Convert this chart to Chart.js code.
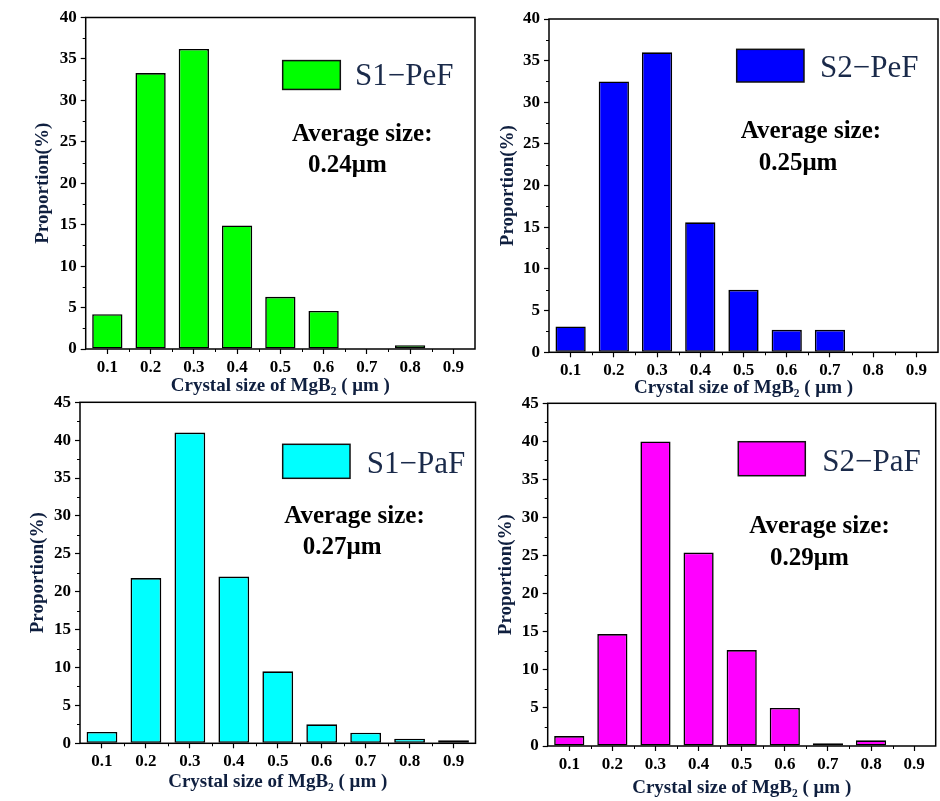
<!DOCTYPE html>
<html>
<head>
<meta charset="utf-8">
<script src="https://cdn.jsdelivr.net/npm/chart.js@4/dist/chart.umd.min.js"></script>
<style>
  html, body { margin: 0; padding: 0; background: #fff; }
  body { width: 940px; height: 801px; position: relative; overflow: hidden; }
  .panel { position: absolute; }
</style>
</head>
<body>
<div class="panel" style="left:0px;top:0px;"><canvas id="c1" width="477" height="400"></canvas></div>
<div class="panel" style="left:477px;top:0px;"><canvas id="c2" width="463" height="400"></canvas></div>
<div class="panel" style="left:0px;top:385px;"><canvas id="c3" width="477" height="416"></canvas></div>
<div class="panel" style="left:477px;top:385px;"><canvas id="c4" width="463" height="416"></canvas></div>
<script>
// ---- data ----
const categories = ['0.1', '0.2', '0.3', '0.4', '0.5', '0.6', '0.7', '0.8', '0.9'];
const s1PeF = [4.2, 33.3, 36.2, 14.9, 6.3, 4.6, 0, 0.45, 0];
const s2PeF = [3.1, 32.5, 36.0, 15.6, 7.5, 2.7, 2.7, 0, 0];
const s1PaF = [1.5, 21.8, 41.0, 22.0, 9.5, 2.5, 1.4, 0.6, 0.4];
const s2PaF = [1.3, 14.7, 40.0, 25.4, 12.6, 5.0, 0.35, 0.75, 0];
const seriesNames = ['S1\u2212PeF', 'S2\u2212PeF', 'S1\u2212PaF', 'S2\u2212PaF'];
const averageSizes = ['0.24\u03bcm', '0.25\u03bcm', '0.27\u03bcm', '0.29\u03bcm'];
const yMaxTop = 40;
const yMaxBottom = 45;
const yTickStep = 5;
const yTitle = 'Proportion(%)';
const xTitle = 'Crystal size of MgB\u2082 ( \u03bcm )';
const avgLabel = 'Average size:';

// ---- styling / layout ----
const SERIF = '"Liberation Serif", "Times New Roman", serif';
const TITLE_COLOR = '#0f1f3f';

const decor = {
  id: 'decor',
  afterDraw(chart, args, o) {
    const { ctx, chartArea: a, scales: { x, y } } = chart;
    const w = a.right - a.left, h = a.bottom - a.top;
    ctx.save();
    // frame
    ctx.strokeStyle = '#000';
    ctx.lineWidth = 1.5;
    ctx.strokeRect(a.left, a.top, w, h);
    // minor y ticks
    ctx.lineWidth = 1;
    ctx.beginPath();
    for (let v = y.min + yTickStep / 2; v < y.max; v += yTickStep) {
      const py = Math.round(y.getPixelForValue(v)) + 0.5;
      ctx.moveTo(a.left - 3, py);
      ctx.lineTo(a.left, py);
    }
    // minor x ticks at category boundaries
    for (let i = 1; i < categories.length; i++) {
      const px = Math.round(x.getPixelForValue(i - 0.5)) + 0.5;
      ctx.moveTo(px, a.bottom);
      ctx.lineTo(px, a.bottom + 3);
    }
    ctx.stroke();
    // legend box
    const bx0 = a.left + o.box[0] * w, bx1 = a.left + o.box[1] * w;
    const by0 = a.top + o.box[2] * h, by1 = a.top + o.box[3] * h;
    ctx.fillStyle = o.color;
    ctx.fillRect(bx0, by0, bx1 - bx0, by1 - by0);
    ctx.lineWidth = 1.5;
    ctx.strokeStyle = '#111';
    ctx.strokeRect(bx0, by0, bx1 - bx0, by1 - by0);
    ctx.textBaseline = 'alphabetic';
    ctx.textAlign = 'left';
    ctx.fillStyle = '#1a2a4a';
    ctx.font = 'normal 31px ' + SERIF;
    ctx.fillText(o.name, a.left + o.lab[0] * w, a.top + o.lab[1] * h);
    // annotation
    ctx.fillStyle = '#000';
    ctx.font = 'bold 25px ' + SERIF;
    ctx.fillText(avgLabel, a.left + o.avg[0] * w, a.top + o.avg[1] * h);
    ctx.fillText(o.avgValue, a.left + o.val[0] * w, a.top + o.val[1] * h);
    ctx.restore();
  }
};

function makeChart(id, p) {
  return new Chart(document.getElementById(id), {
    type: 'bar',
    data: {
      labels: categories,
      datasets: [{
        label: p.name,
        data: p.data,
        backgroundColor: p.color,
        borderColor: '#000',
        borderWidth: 1.6,
        borderSkipped: false,
        barPercentage: 0.7,
        categoryPercentage: 1.0
      }]
    },
    options: {
      responsive: false,
      animation: false,
      devicePixelRatio: 1,
      layout: { padding: p.pad },
      plugins: {
        legend: { display: false },
        tooltip: { enabled: false },
        decor: p
      },
      scales: {
        x: {
          type: 'category',
          offset: true,
          border: { display: false },
          grid: { display: true, drawOnChartArea: false, offset: false, tickLength: 5, color: '#000', tickWidth: 1.2 },
          ticks: { color: '#000', font: { family: SERIF, size: 17, weight: 'bold' }, padding: 3, maxRotation: 0, autoSkip: false },
          title: { display: true, text: xTitle, color: TITLE_COLOR, font: { family: SERIF, size: 19, weight: 'bold', lineHeight: 1 }, padding: { top: 0, bottom: p.xtPad } },
          afterFit: s => { s.height = p.xh; }
        },
        y: {
          min: 0,
          max: p.ymax,
          border: { display: false },
          grid: { display: true, drawOnChartArea: false, tickLength: 5, color: '#000', tickWidth: 1.2 },
          ticks: { stepSize: yTickStep, color: '#000', font: { family: SERIF, size: 17, weight: 'bold' }, padding: 4 },
          title: { display: true, text: yTitle, color: TITLE_COLOR, font: { family: SERIF, size: 19, weight: 'bold', lineHeight: 1 }, padding: { top: p.ytPad, bottom: 0 } },
          afterFit: s => { s.width = p.yw; }
        }
      }
    },
    plugins: [decor]
  });
}

makeChart('c1', {
  name: seriesNames[0], avgValue: averageSizes[0], data: s1PeF, color: '#00ff00', ymax: yMaxTop,
  pad: { left: 0, top: 17.5, right: 2, bottom: 0 }, yw: 85.7, xh: 51, xtPad: 4.5, ytPad: 33.5,
  box: [0.506, 0.654, 0.130, 0.217], lab: [0.692, 0.204], avg: [0.530, 0.374], val: [0.571, 0.465]
});
makeChart('c2', {
  name: seriesNames[1], avgValue: averageSizes[1], data: s2PeF, color: '#0000ff', ymax: yMaxTop,
  pad: { left: 0, top: 19, right: 2, bottom: 0 }, yw: 72, xh: 47.7, xtPad: 2.5, ytPad: 21.5,
  box: [0.4825, 0.6555, 0.091, 0.189], lab: [0.6967, 0.175], avg: [0.4928, 0.358], val: [0.539, 0.453]
});
makeChart('c3', {
  name: seriesNames[2], avgValue: averageSizes[2], data: s1PaF, color: '#00ffff', ymax: yMaxBottom,
  pad: { left: 0, top: 17.3, right: 1.5, bottom: 0 }, yw: 80, xh: 57.7, xtPad: 9, ytPad: 28.5,
  box: [0.5125, 0.6827, 0.1232, 0.2229], lab: [0.7249, 0.2082], avg: [0.5166, 0.3548], val: [0.5631, 0.4457]
});
makeChart('c4', {
  name: seriesNames[3], avgValue: averageSizes[3], data: s2PaF, color: '#ff00ff', ymax: yMaxBottom,
  pad: { left: 0, top: 18.3, right: 4.3, bottom: 0 }, yw: 70.7, xh: 55, xtPad: 3.5, ytPad: 19.3,
  box: [0.4912, 0.6639, 0.1121, 0.2113], lab: [0.7077, 0.1975], avg: [0.5196, 0.3793], val: [0.5729, 0.4718]
});
</script>
</body>
</html>
